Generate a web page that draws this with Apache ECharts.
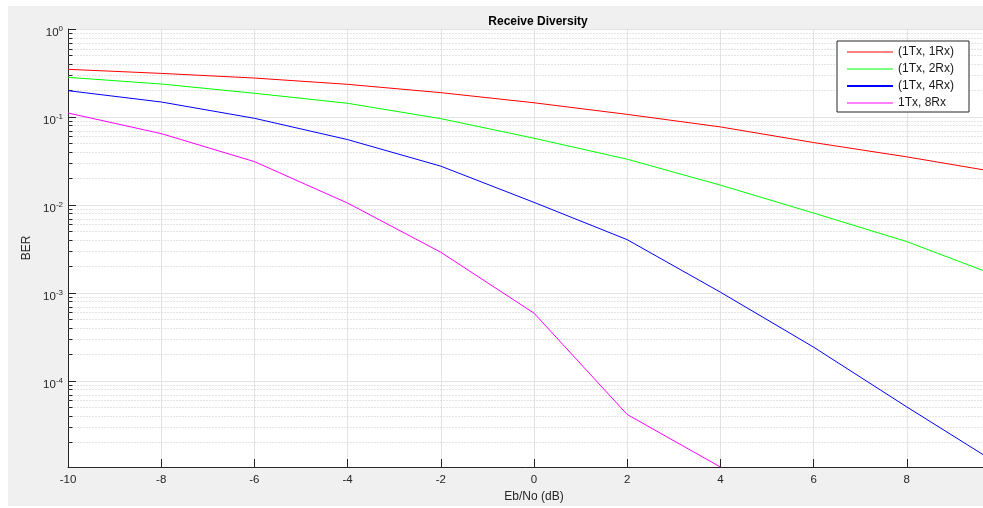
<!DOCTYPE html>
<html><head><meta charset="utf-8">
<script src="https://cdn.jsdelivr.net/npm/echarts@6/dist/echarts.min.js"></script>
<style>html,body{margin:0;padding:0;background:#fff}#c{width:983px;height:508px}</style>
</head><body><div id="c"></div>
<script>
// ---- data ----
const ebNo = [-10, -8, -6, -4, -2, 0, 2, 4, 6, 8, 10];
const ber1Rx = [0.348, 0.313, 0.277, 0.235, 0.189, 0.145, 0.107, 0.0771, 0.0512, 0.0352, 0.0233];
const ber2Rx = [0.282, 0.237, 0.186, 0.143, 0.0957, 0.0573, 0.0331, 0.0168, 0.00809, 0.00383, 0.00152];
const ber4Rx = [0.199, 0.148, 0.0966, 0.0553, 0.0276, 0.0107, 0.00403, 0.00102, 0.000242, 0.0000506, 0.0000110];
const ber8Rx = [0.111, 0.0647, 0.0311, 0.0105, 0.0029, 0.000589, 0.0000415, 0.0000105];
const seriesNames = ['(1Tx, 1Rx)', '(1Tx, 2Rx)', '(1Tx, 4Rx)', '1Tx, 8Rx'];
const seriesColors = ['#ff0000', '#00ff00', '#0000ff', '#ff00ff'];
const xMin = -10, xMax = 10, xStep = 2;
const yMin = 0.0000105, yMax = 1;
const minorMultipliers = [2, 3, 4, 5, 6, 7, 8, 9];
const decadeExps = [-5, -4, -3, -2, -1];

const FONT = '"Liberation Sans", Arial, Helvetica, sans-serif';
const AX = '#262626';

const minorValues = [];
decadeExps.forEach(e => minorMultipliers.forEach(m => {
  const v = m * Math.pow(10, e);
  if (v > yMin && v < yMax) minorValues.push(v);
}));

const allSeries = [ber1Rx, ber2Rx, ber4Rx, ber8Rx];

const chart = echarts.init(document.getElementById('c'), null, {renderer: 'canvas'});
const option = {
  animation: false,
  backgroundColor: '#ffffff',
  graphic: {elements: [{
    type: 'rect', z: -100, silent: true,
    shape: {x: 8, y: 6, width: 975, height: 500},
    style: {fill: '#f0f0f0'}
  }]},
  title: {
    text: 'Receive Diversity', left: 533, top: 11, textAlign: 'center',
    textStyle: {fontSize: 12, fontWeight: 'bold', color: '#000', fontFamily: FONT}
  },
  grid: {left: 68, top: 29, right: -17, bottom: 41, show: true, backgroundColor: '#ffffff',
         borderWidth: 0, containLabel: false, outerBoundsMode: 'none'},
  legend: {
    orient: 'vertical', left: 837, top: 41,
    padding: [5, 15, 3, 9], itemWidth: 46, itemHeight: 14, itemGap: 5,
    backgroundColor: '#ffffff', borderColor: AX, borderWidth: 1, borderRadius: 0,
    itemStyle: {opacity: 0},
    lineStyle: {width: 1},
    textStyle: {fontSize: 12, color: '#1a1a1a', fontFamily: FONT},
    data: seriesNames.map((n, i) => ({name: n, lineStyle: {width: i === 2 ? 2 : 1}}))
  },
  xAxis: {
    type: 'value', min: xMin, max: xMax, interval: xStep,
    axisLine: {show: true, onZero: false, lineStyle: {color: AX, width: 1}},
    axisTick: {show: true, inside: true, length: 8, lineStyle: {color: AX}},
    axisLabel: {margin: 7, color: AX, fontSize: 11.5, fontFamily: FONT},
    splitLine: {show: true, lineStyle: {color: '#e3e3e3', width: 1}},
    name: 'Eb/No (dB)', nameLocation: 'middle', nameGap: 22,
    nameTextStyle: {fontSize: 12, color: AX, fontFamily: FONT}
  },
  yAxis: {
    type: 'log', logBase: 10, min: yMin, max: yMax,
    axisLine: {show: true, onZero: false, lineStyle: {color: AX, width: 1}},
    axisTick: {show: true, inside: true, length: 8, lineStyle: {color: AX}},
    axisLabel: {
      showMinLabel: false, margin: 5, color: AX, fontFamily: FONT,
      formatter: function (v) {
        const l = Math.log10(v);
        const e = Math.round(l);
        if (Math.abs(l - e) > 0.01) return '';
        return '{b|10}{e|' + e + '}';
      },
      rich: {
        b: {fontSize: 11.5, lineHeight: 12, padding: [7, 0, 0, 0], color: AX, fontFamily: FONT},
        e: {fontSize: 8, lineHeight: 8, color: AX, fontFamily: FONT}
      }
    },
    splitLine: {show: true, lineStyle: {color: '#e3e3e3', width: 1}},
    name: 'BER', nameLocation: 'middle', nameGap: 21, nameRotate: 90,
    nameTextStyle: {fontSize: 12, color: AX, fontFamily: FONT}
  },
  series: [
    {
      type: 'custom', name: 'minorGrid', silent: true, z: 1,
      data: minorValues.map(v => [xMin, v]),
      encode: {x: 0, y: 1},
      renderItem: function (params, api) {
        const v = api.value(1);
        const p0 = api.coord([xMin, v]);
        const p1 = api.coord([xMax, v]);
        const y = Math.round(p0[1]) + 0.5;
        const x0 = Math.round(p0[0]) + 0.5;
        return {type: 'group', children: [
          {type: 'line', shape: {x1: x0, y1: y, x2: p1[0], y2: y},
           style: {stroke: '#c8c8c8', lineWidth: 1, lineDash: [1, 2]}},
          {type: 'line', shape: {x1: x0, y1: y, x2: x0 + 4, y2: y},
           style: {stroke: AX, lineWidth: 1}}
        ]};
      }
    }
  ].concat(allSeries.map((arr, i) => ({
    type: 'line', name: seriesNames[i], z: 3,
    data: arr.map((v, j) => [ebNo[j], v]),
    symbol: 'none', showSymbol: false, clip: true,
    lineStyle: {color: seriesColors[i], width: 1},
    itemStyle: {color: seriesColors[i]}
  })))
};
chart.setOption(option);
</script>
</body></html>
